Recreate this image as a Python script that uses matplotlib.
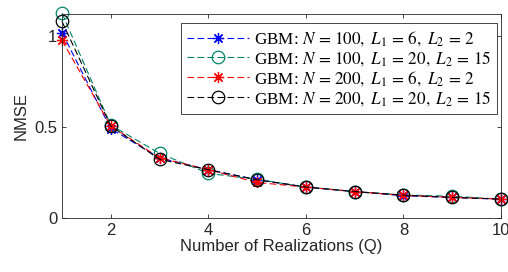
import matplotlib
matplotlib.use('Agg')
import matplotlib.pyplot as plt

plt.rcParams['font.family'] = ['Liberation Sans', 'DejaVu Sans']
plt.rcParams['mathtext.fontset'] = 'stix'

Q = [1, 2, 3, 4, 5, 6, 7, 8, 9, 10]

nmse_n100_l6 = [1.018, 0.49, 0.33, 0.265, 0.21, 0.17, 0.145, 0.122, 0.113, 0.103]
nmse_n100_l20 = [1.125, 0.51, 0.355, 0.245, 0.212, 0.17, 0.145, 0.126, 0.12, 0.103]
nmse_n200_l6 = [0.975, 0.505, 0.33, 0.265, 0.195, 0.17, 0.145, 0.124, 0.113, 0.104]
nmse_n200_l20 = [1.079, 0.505, 0.322, 0.265, 0.21, 0.17, 0.145, 0.126, 0.113, 0.104]

labels = [r'GBM: $N\,=\,100,\ L_1\,=\,6,\ L_2\,=\,2$',
          r'GBM: $N\,=\,100,\ L_1\,=\,20,\ L_2\,=\,15$',
          r'GBM: $N\,=\,200,\ L_1\,=\,6,\ L_2\,=\,2$',
          r'GBM: $N\,=\,200,\ L_1\,=\,20,\ L_2\,=\,15$']

axcol = (0.15, 0.15, 0.15)
asterisk = (8, 2, 0)   # matlab-like '*'

fig = plt.figure(figsize=(5.08, 2.72), dpi=100)
ax = fig.add_axes([62/508, 1-218/272, 439/508, 204/272])

style = dict(ls=(0, (6, 3)), lw=0.8, mew=0.9, clip_on=False)
ax.plot(Q, nmse_n100_l6, color='#0000ff', marker=asterisk, ms=8, label=labels[0], **style)
ax.plot(Q, nmse_n100_l20, color='#00856a', marker='o', ms=9, mfc='none', label=labels[1], **style)
ax.plot(Q, nmse_n200_l6, color='#ff0000', marker=asterisk, ms=8, label=labels[2], **style)
ax.plot(Q, nmse_n200_l20, color='black', marker='o', ms=9, mfc='none', label=labels[3], **style)

ax.set_xlim(1, 10)
ax.set_ylim(0, 1.12)
ax.set_xticks([2, 4, 6, 8, 10])
ax.set_yticks([0, 0.5, 1])
ax.set_yticklabels(['0', '0.5', '1'])
ax.tick_params(direction='in', top=True, right=True, labelsize=12, colors=axcol, length=3, width=0.6)
for s in ax.spines.values():
    s.set_color(axcol)
    s.set_linewidth(0.6)

ax.set_xlabel('Number of Realizations (Q)', fontsize=12, color=axcol, labelpad=1)
ax.set_ylabel('NMSE', fontsize=12, color=axcol, labelpad=4)

leg = ax.legend(loc='upper right', bbox_to_anchor=(0.991, 0.955), borderaxespad=0, handlelength=3.6,
                handletextpad=0.3, labelspacing=0.06, borderpad=0.35, fancybox=False, framealpha=1,
                prop={'family': 'Liberation Serif', 'size': 12.3})
leg.get_frame().set_edgecolor(axcol)
leg.get_frame().set_linewidth(0.6)

fig.savefig('out.png', dpi=100)
